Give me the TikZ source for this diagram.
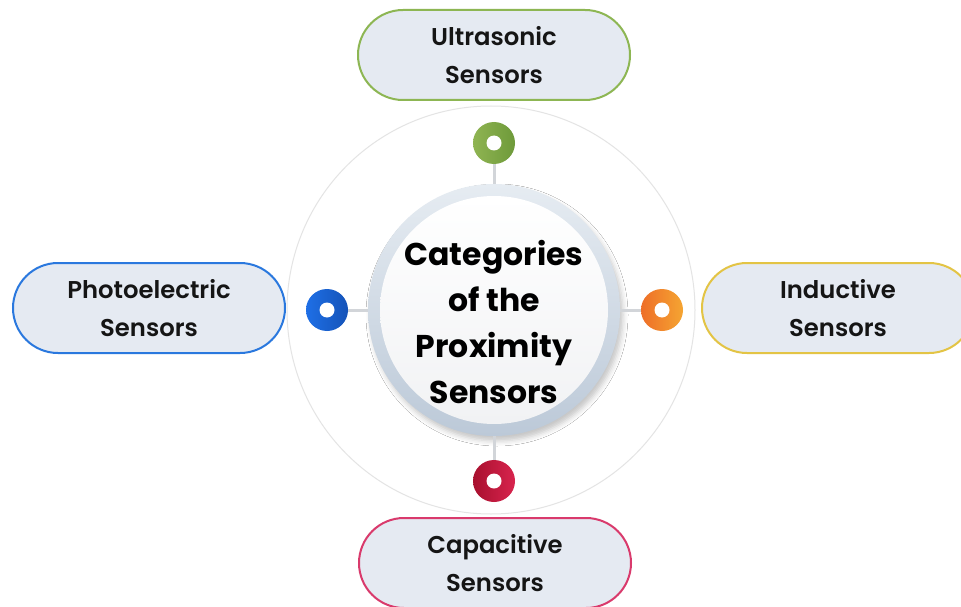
\documentclass[tikz,border=0pt]{standalone}
\usepackage{fontspec}
\setmainfont{Poppins}
\newfontfamily\labelfont{Poppins SemiBold}
\usetikzlibrary{shadows.blur}
\definecolor{pillfill}{HTML}{E5EAF2}
\definecolor{cgreen}{HTML}{8DB653}
\definecolor{cgreenA}{HTML}{6E9A3A}
\definecolor{cgreenB}{HTML}{8FB452}
\definecolor{cblue}{HTML}{2A78DE}
\definecolor{cblueA}{HTML}{1E6FE6}
\definecolor{cblueB}{HTML}{1553B8}
\definecolor{cyellow}{HTML}{E3C445}
\definecolor{corangeA}{HTML}{EE6E28}
\definecolor{corangeB}{HTML}{F5A532}
\definecolor{cpink}{HTML}{D93A6C}
\definecolor{credA}{HTML}{A8102E}
\definecolor{credB}{HTML}{D8244E}
\definecolor{ringout}{HTML}{BCC9D8}
\definecolor{ringin}{HTML}{E6ECF2}
\definecolor{discfill}{HTML}{F1F2F4}
\definecolor{linegray}{HTML}{D2D5D9}
\definecolor{outergray}{HTML}{E4E4E4}
\definecolor{txt}{HTML}{151515}
\tikzset{
  pill/.style={draw=#1, line width=2pt, fill=pillfill, rectangle,
    rounded corners=45pt, minimum width=272pt, minimum height=90pt,
    inner sep=0pt, align=center, text=txt,
    font=\labelfont\fontsize{24.3}{37.5}\selectfont},
  dotnode/.style 2 args={circle, minimum size=42pt, inner sep=0pt,
    left color=#1, right color=#2, draw=none,
    path picture={\fill[white] (path picture bounding box.center) circle (7.5pt);}},
  link/.style={draw=linegray, line width=3pt},
}
\begin{document}
\begin{tikzpicture}[x=1pt,y=-1pt]
\path[use as bounding box, fill=white] (0,0) rectangle (961,607);
% outer thin circle
\node[circle, draw=outergray, line width=1pt, minimum size=408pt, inner sep=0pt] (outer) at (491,310) {};
% center disc
\node[circle, minimum size=252pt, inner sep=0pt, top color=ringin, bottom color=ringout,
  blur shadow={shadow xshift=3pt, shadow yshift=-5pt, shadow blur radius=5pt, shadow opacity=22}] (center) at (494,310) {};
\node[circle, minimum size=228pt, inner sep=0pt, top color=white, bottom color=discfill] (disc) at (494,310) {};
\node[align=center, text=black, font=\bfseries\fontsize{31.5}{46}\selectfont] (ctext) at (494,322)
  {Categories\\of the\\Proximity\\Sensors};
% dots
\node[dotnode={cgreenB}{cgreenA}] (dtop) at (494,143) {};
\node[dotnode={cblueA}{cblueB}] (dleft) at (327,310) {};
\node[dotnode={corangeA}{corangeB}] (dright) at (662,310) {};
\node[dotnode={credA}{credB}] (dbot) at (494,481) {};
% links
\draw[link] (dtop) -- (center);
\draw[link] (dleft) -- (center);
\draw[link] (dright) -- (center);
\draw[link] (dbot) -- (center);
% pills
\node[pill=cgreen] (ultra) at (494,55) {Ultrasonic\\Sensors};
\node[pill=cblue] (photo) at (149,308) {Photoelectric\\Sensors};
\node[pill=cyellow] (induct) at (838,308) {Inductive\\Sensors};
\node[pill=cpink] (capac) at (495,563) {Capacitive\\Sensors};
\end{tikzpicture}
\end{document}
